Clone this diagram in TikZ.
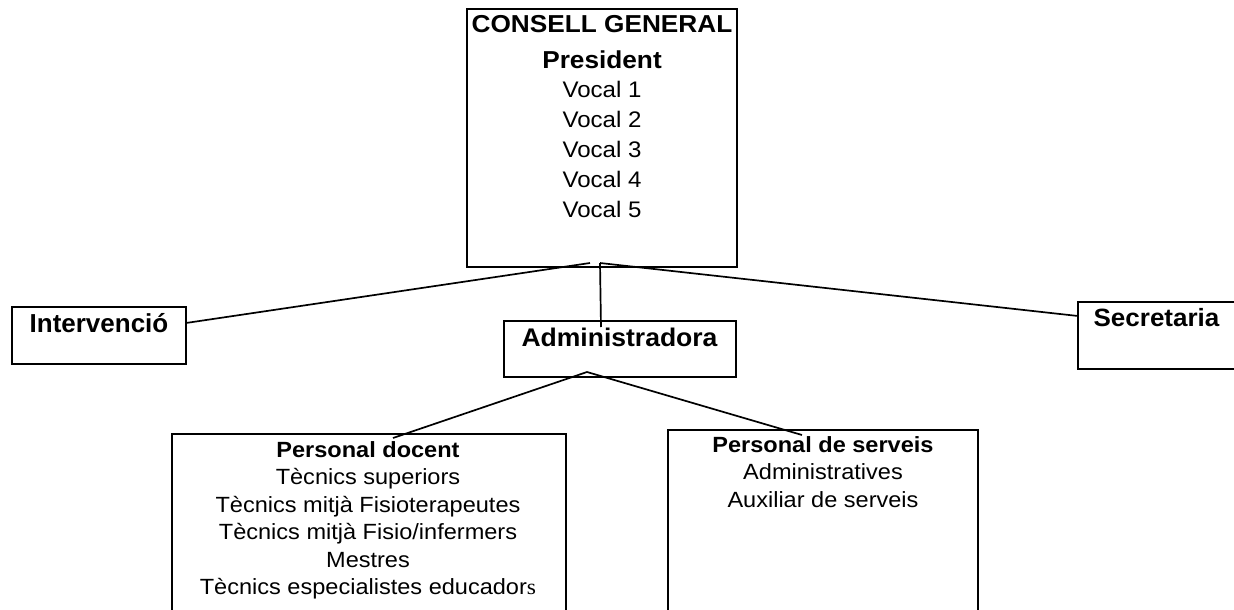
\documentclass[tikz,border=0pt]{standalone}
\usepackage{fontspec}
\setmainfont{Liberation Sans}[FakeStretch=1.07]
\newfontfamily\midfont{Liberation Sans}[FakeStretch=1.04]
\newfontfamily\plainfont{Liberation Sans}
\newfontfamily\serifs{Liberation Serif}[FakeStretch=1.07]
\begin{document}
\begin{tikzpicture}[x=1pt,y=-1pt,
  box/.style={draw,line width=1.8pt,inner sep=0pt,outer sep=0pt},
  lbl/.style={inner sep=0pt,anchor=base},
  topbold/.style={lbl,font=\fontsize{24.5}{28}\selectfont\bfseries},
  topreg/.style={lbl,font=\fontsize{22.5}{26}\selectfont},
  botbold/.style={lbl,font=\fontsize{22}{26}\selectfont\bfseries},
  botreg/.style={lbl,font=\fontsize{22}{26}\selectfont},
  conn/.style={line width=1.7pt}]
\useasboundingbox (0,0) rectangle (1234,610);
\fill[white] (0,0) rectangle (1234,610);

% boxes
\node[box,minimum width=270pt,minimum height=258pt] (cg) at (602,138) {};
\node[box,minimum width=232pt,minimum height=56pt] (adm) at (620,349) {};
\node[box,minimum width=174pt,minimum height=57pt] (int) at (99,335.5) {};
\node[box,minimum width=158pt,minimum height=67pt] (sec) at (1157,335.5) {};
\node[box,minimum width=394pt,minimum height=191pt] (doc) at (369,529.5) {};
\node[box,minimum width=310pt,minimum height=195pt] (ser) at (823,527.5) {};

% top box text
\node[topbold] (cg1) at (602,33) {CONSELL GENERAL};
\node[topbold] (cg2) at (602,68) {President};
\node[topreg] (cg3) at (602,97) {Vocal 1};
\node[topreg] (cg4) at (602,127) {Vocal 2};
\node[topreg] (cg5) at (602,157) {Vocal 3};
\node[topreg] (cg6) at (602,187) {Vocal 4};
\node[topreg] (cg7) at (602,217) {Vocal 5};

% middle labels
\node[lbl,font=\plainfont\fontsize{26}{30}\selectfont\bfseries] (intt) at (99,332) {Intervenció};
\node[lbl,font=\midfont\fontsize{25.5}{30}\selectfont\bfseries] (admt) at (619.5,346) {Administradora};
\node[lbl,font=\midfont\fontsize{25}{30}\selectfont\bfseries] (sect) at (1156.5,326) {Secretaria};

% personal docent
\node[botbold] (d1) at (368,457) {Personal docent};
\node[botreg] (d2) at (368,484) {Tècnics superiors};
\node[botreg] (d3) at (368,512) {Tècnics mitjà Fisioterapeutes};
\node[botreg] (d4) at (368,539) {Tècnics mitjà Fisio/infermers};
\node[botreg] (d5) at (368,567) {Mestres};
\node[botreg] (d6) at (368,594) {Tècnics especialistes educador{\serifs s}};

% personal de serveis
\node[botbold] (s1) at (823,452) {Personal de serveis};
\node[botreg] (s2) at (823,479) {Administratives};
\node[botreg] (s3) at (823,507) {Auxiliar de serveis};

% connectors
\coordinate (ja) at (590,263);
\coordinate (jb) at (600,263);
\coordinate (admin) at (601,327);
\coordinate (jc) at (587,372);
\coordinate (docin) at (393,438);
\coordinate (serin) at (802,435);
\draw[conn] (ja) -- ([yshift=12.5pt]int.east);
\draw[conn] (jb) -- ([yshift=19.5pt]sec.west);
\draw[conn] (jb) -- (admin);
\draw[conn] (jc) -- (docin);
\draw[conn] (jc) -- (serin);
\end{tikzpicture}
\end{document}
